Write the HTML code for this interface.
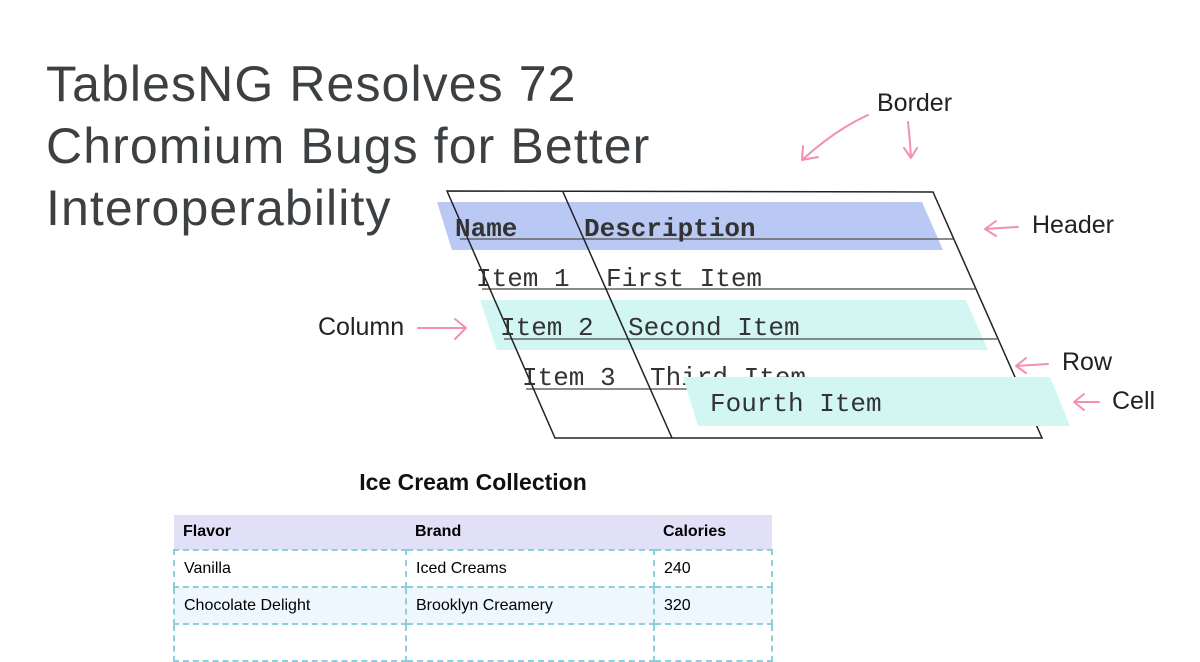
<!DOCTYPE html>
<html><head><meta charset="utf-8"><style>
body{margin:0;width:1200px;height:630px;overflow:hidden;background:#fff;position:relative;font-family:"Liberation Sans",sans-serif}
.t{position:absolute;left:46px;top:53px;font-size:50px;line-height:62px;color:#3c4043;letter-spacing:1.1px}
table{position:absolute;left:173px;top:515px;width:600px;border-collapse:collapse;font-size:16px}
td,th{text-align:left;padding:0 9px;height:35px}
th{background:#e2e0f6;height:34px;font-weight:bold}
td{border:2px dashed #8ecfdc}
tr.b td{background:#eef6fe}
</style></head><body>
<div class="t">TablesNG Resolves 72<br>Chromium Bugs for Better<br>Interoperability</div>
<svg width="1200" height="630" style="position:absolute;left:0;top:0" font-family="Liberation Mono, monospace">
<polygon points="437,202 922,202 943,250 452,250" fill="#b9c9f4"/>
<polygon points="480,300 966,300 988,350 497,350" fill="#d2f7f2"/>
<g stroke="#666" stroke-width="1.5">
<line x1="460" y1="239" x2="953" y2="239"/>
<line x1="482" y1="289" x2="975" y2="289"/>
<line x1="504" y1="339" x2="997" y2="339"/>
<line x1="526" y1="389" x2="1019" y2="389"/>
</g>
<g stroke="#222" stroke-width="1.5" fill="none">
<polygon points="447,191 933,192 1042,438 555,438"/>
<line x1="563" y1="192" x2="672" y2="438"/>
</g>
<g font-size="26" fill="#333">
<text x="455" y="236" font-weight="bold">Name</text>
<text x="584" y="236" font-weight="bold">Description</text>
<text x="476" y="286">Item 1</text><text x="606" y="286">First Item</text>
<text x="500" y="335">Item 2</text><text x="628" y="335">Second Item</text>
<text x="522" y="385">Item 3</text><text x="650" y="385">Third Item</text>
</g>
<polygon points="683,377 1050,377 1070,426 698,426" fill="#d2f7f2"/>
<text x="710" y="411" font-size="26" fill="#333">Fourth Item</text>
<g stroke="#f48fb1" stroke-width="2" fill="none" stroke-linecap="round">
<path d="M868,115 Q835,130 802,160 M802,160 L803,146 M802,160 L818,157"/>
<path d="M908,122 Q910,140 911,158 M911,158 L904,148 M911,158 L917,148"/>
<path d="M1018,227 L985,229 M985,229 L996,221 M985,229 L996,236"/>
<path d="M418,328 L466,328 M466,328 L455,319 M466,328 L455,339"/>
<path d="M1048,364 L1016,366 M1016,366 L1026,358 M1016,366 L1026,373"/>
<path d="M1099,402 L1074,402 M1074,402 L1084,394 M1074,402 L1084,410"/>
</g>
<g font-family="Liberation Sans, sans-serif" font-size="25" fill="#222">
<text x="877" y="111">Border</text>
<text x="1032" y="233">Header</text>
<text x="318" y="335">Column</text>
<text x="1062" y="370">Row</text>
<text x="1112" y="409">Cell</text>
</g>
<text x="473" y="490" text-anchor="middle" font-family="Liberation Sans, sans-serif" font-size="23" font-weight="bold" fill="#111">Ice Cream Collection</text>
</svg>
<table>
<tr><th style="width:214px">Flavor</th><th style="width:230px">Brand</th><th>Calories</th></tr>
<tr><td>Vanilla</td><td>Iced Creams</td><td>240</td></tr>
<tr class="b"><td>Chocolate Delight</td><td>Brooklyn Creamery</td><td>320</td></tr>
<tr><td>&nbsp;</td><td></td><td></td></tr>
</table>
</body></html>
